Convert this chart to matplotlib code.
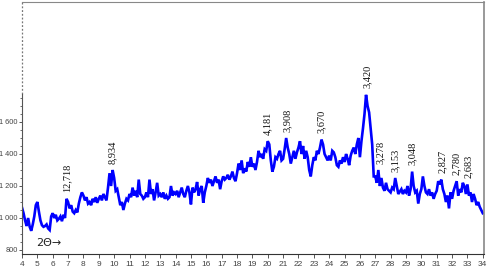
import numpy as np
import matplotlib
matplotlib.use("Agg")
import matplotlib.pyplot as plt
from matplotlib.ticker import MultipleLocator, FixedLocator

# 2-theta scan, 0.1 deg steps from 4 to 34
two_theta = np.round(np.arange(4.0, 34.05, 0.1), 1)
intensity = [
    1065, 1030, 985, 950, 1000, 945, 920, 960, 1010, 1080,    # 4
    1100, 1040, 985, 955, 945, 950, 960, 935, 925, 1010,      # 5
    1030, 1000, 1020, 985, 995, 1010, 980, 1020, 1000, 1120,  # 6
    1100, 1060, 1080, 1040, 1030, 1050, 1035, 1090, 1130, 1160,  # 7
    1140, 1110, 1130, 1090, 1100, 1080, 1120, 1100, 1130, 1095,  # 8
    1120, 1140, 1110, 1150, 1130, 1110, 1190, 1280, 1200, 1300,  # 9
    1250, 1170, 1180, 1130, 1080, 1100, 1050, 1090, 1120, 1110,  # 10
    1150, 1130, 1190, 1140, 1170, 1130, 1240, 1150, 1140, 1120,  # 11
    1130, 1160, 1130, 1240, 1150, 1180, 1110, 1160, 1220, 1140,  # 12
    1150, 1130, 1160, 1120, 1140, 1120, 1130, 1200, 1140, 1160,  # 13
    1150, 1170, 1130, 1160, 1190, 1150, 1130, 1170, 1200, 1160,  # 14
    1085, 1190, 1160, 1180, 1225, 1140, 1180, 1200, 1095, 1160,  # 15
    1200, 1250, 1220, 1240, 1200, 1230, 1260, 1220, 1240, 1180,  # 16
    1230, 1260, 1240, 1250, 1270, 1240, 1260, 1290, 1250, 1230,  # 17
    1280, 1340, 1300, 1360, 1280, 1310, 1290, 1350, 1320, 1380,  # 18
    1320, 1340, 1300, 1350, 1420, 1380, 1400, 1370, 1430, 1420,  # 19
    1480, 1460, 1360, 1290, 1320, 1380, 1370, 1400, 1420, 1360,  # 20
    1370, 1430, 1500, 1440, 1400, 1340, 1380, 1420, 1370, 1410,  # 21
    1440, 1480, 1400, 1450, 1370, 1420, 1380, 1300, 1260, 1330,  # 22
    1380, 1360, 1420, 1400, 1440, 1490, 1460, 1400, 1380, 1360,  # 23
    1390, 1360, 1420, 1410, 1380, 1330, 1320, 1360, 1340, 1380,  # 24
    1350, 1400, 1370, 1330, 1390, 1420, 1440, 1400, 1460, 1500,  # 25
    1380, 1480, 1560, 1650, 1770, 1700, 1660, 1560, 1460, 1260,  # 26
    1260, 1220, 1300, 1200, 1250, 1190, 1170, 1220, 1180, 1170,  # 27
    1160, 1190, 1180, 1250, 1200, 1150, 1165, 1180, 1150, 1170,  # 28
    1160, 1200, 1140, 1180, 1290, 1200, 1160, 1170, 1090, 1150,  # 29
    1180, 1260, 1200, 1160, 1150, 1180, 1140, 1160, 1120, 1150,  # 30
    1170, 1230, 1210, 1240, 1180, 1150, 1100, 1140, 1060, 1160,  # 31
    1120, 1170, 1200, 1230, 1140, 1180, 1160, 1220, 1200, 1150,  # 32
    1210, 1140, 1160, 1100, 1150, 1120, 1080, 1100, 1070, 1050,  # 33
    1030,
]

# d-spacing labels and where they sit
peak_pos = [6.95, 9.9, 20.0, 21.3, 23.5, 26.45, 27.3, 28.3, 29.4, 31.35, 32.3, 33.05]
peak_labels = ["12,718", "8,934", "4,181", "3,908", "3,670", "3,420",
               "3,278", "3,153", "3,048", "2,827", "2,780", "2,683"]

yticks = [800, 1000, 1200, 1400, 1600]
ytick_labels = ["800", "1 000", "1 200", "1 400", "1 600"]

fig = plt.figure(figsize=(4.87, 2.72), dpi=100)
ax = fig.add_axes([22 / 487, 18 / 272, 462 / 487, 252 / 272])

ax.plot(two_theta, intensity, color="#0000ff", lw=1.9, solid_joinstyle="miter")

ax.set_xlim(4, 34.08)
ax.set_ylim(775, 2350)

# axes frame
ax.spines["top"].set_color("#888888")
ax.spines["right"].set_color("#888888")
ax.spines["right"].set_linewidth(1.2)
ax.spines["bottom"].set_color("#333333")
ax.spines["left"].set_color("#555555")
ax.spines["left"].set_bounds(775, 1775)
ax.plot([4, 4], [1775, 2350], color="#777777", lw=0.9, ls=(0, (1.5, 1.5)),
        clip_on=False)

ax.xaxis.set_major_locator(MultipleLocator(1))
ax.tick_params(axis="x", direction="out", length=3, width=0.7, color="#555555",
               labelsize=6, labelcolor="#444444", pad=2)
ax.yaxis.set_major_locator(FixedLocator(yticks))
ax.set_yticklabels(ytick_labels)
ax.yaxis.set_minor_locator(FixedLocator([v for v in range(850, 1800, 50) if v % 200]))
ax.tick_params(axis="y", which="major", direction="out", length=2.5, width=0.7,
               color="#555555", labelsize=5.3, labelcolor="#444444", pad=0.5)
ax.tick_params(axis="y", which="minor", direction="out", length=1.8, width=0.6,
               color="#555555")
for lab in ax.get_xticklabels() + ax.get_yticklabels():
    lab.set_family("Liberation Sans")

# peak labels just above the local max
tt = np.array(two_theta)
ii = np.array(intensity)
for pos, lab in zip(peak_pos, peak_labels):
    near = np.abs(tt - pos) <= 0.15
    top = ii[near].max()
    ax.text(pos, top + 40, lab, rotation=90, ha="center", va="bottom",
            fontsize=7.5, family="Liberation Serif", color="#111111")

ax.text(4.9, 845, "2\u0398\u2192", fontsize=8, color="#222222", va="center",
        family="DejaVu Sans")

fig.savefig("out.png", dpi=100)
